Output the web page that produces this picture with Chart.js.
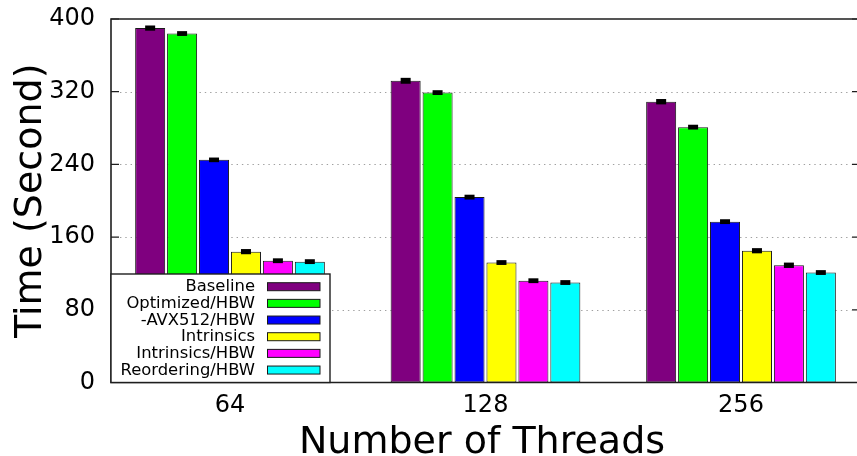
<!DOCTYPE html>
<html>
<head>
<meta charset="utf-8">
<script src="https://cdn.jsdelivr.net/npm/chart.js@4/dist/chart.umd.min.js"></script>
<style>
  html, body { margin: 0; padding: 0; background: #fff; overflow: hidden; }
  canvas { display: block; }
</style>
</head>
<body>
<canvas id="c" width="857" height="456"></canvas>
<script>
// Run time per implementation, grouped by thread count
const categories = ['64', '128', '256'];
const seriesNames = ['Baseline', 'Optimized/HBW', '-AVX512/HBW', 'Intrinsics', 'Intrinsics/HBW', 'Reordering/HBW'];
const seriesColors = ['#7f007f', '#00ff00', '#0000ff', '#ffff00', '#ff00ff', '#00ffff'];

const baseline       = [390, 332, 309];
const optimizedHBW   = [384, 319, 281];
const avx512HBW      = [245, 204, 177];
const intrinsics     = [144, 132, 145];
const intrinsicsHBW  = [134, 112, 129];
const reorderingHBW  = [133, 110, 121];

// half-width of the error bar on each value
const baselineErr      = [1.2, 1.6, 1.3];
const optimizedHBWErr  = [1.0, 1.0, 1.0];
const avx512HBWErr     = [0.9, 1.0, 1.0];
const intrinsicsErr    = [1.2, 1.0, 1.2];
const intrinsicsHBWErr = [1.0, 1.0, 1.3];
const reorderingHBWErr = [1.0, 1.0, 1.0];

const yTicks = [0, 80, 160, 240, 320, 400];

const seriesValues = [baseline, optimizedHBW, avx512HBW, intrinsics, intrinsicsHBW, reorderingHBW];
const seriesErrors = [baselineErr, optimizedHBWErr, avx512HBWErr, intrinsicsErr, intrinsicsHBWErr, reorderingHBWErr];

const FONT = "'DejaVu Sans', 'Liberation Sans', sans-serif";

// group centres sit at these canvas x positions, one group apart
const FIRST_GROUP_X = 230;
const GROUP_SPACING = 255.5;
// the right-hand border runs just past the canvas edge
const RIGHT_BORDER_X = 860;

const datasets = seriesNames.map((name, s) => ({
  label: name,
  data: seriesValues[s].map((v, i) => ({ x: i, y: v })),
  errors: seriesErrors[s],
  backgroundColor: seriesColors[s],
  borderColor: '#1a1a1a',
  borderWidth: 1,
  borderSkipped: false,
  categoryPercentage: 0.75,
  barPercentage: 0.94
}));

const decorations = {
  id: 'decorations',
  beforeDatasetsDraw(chart) {
    const { ctx, chartArea: a, scales: { y } } = chart;
    ctx.save();
    ctx.strokeStyle = '#a0a0a0';
    ctx.lineWidth = 1;
    ctx.setLineDash([1.4, 3.9]);
    yTicks.slice(1, -1).forEach(v => {
      const py = Math.round(y.getPixelForValue(v)) + 0.5;
      ctx.beginPath();
      ctx.moveTo(a.left + 9, py);
      ctx.lineTo(RIGHT_BORDER_X - 9, py);
      ctx.stroke();
    });
    ctx.restore();
  },
  afterDatasetsDraw(chart) {
    const { ctx, chartArea: a, scales: { y } } = chart;
    ctx.save();
    // error bars
    ctx.fillStyle = '#000';
    chart.data.datasets.forEach((ds, s) => {
      const meta = chart.getDatasetMeta(s);
      meta.data.forEach((bar, i) => {
        const v = ds.data[i].y, e = ds.errors[i];
        const top = y.getPixelForValue(v + e) - 1.5;
        const bot = y.getPixelForValue(v - e) + 1.5;
        ctx.fillRect(bar.x - 5, top, 10, bot - top);
      });
    });
    ctx.restore();
  },
  afterDraw(chart) {
    const { ctx, chartArea: a, scales: { y } } = chart;
    ctx.save();
    // keep the strip beyond the last group clear up to the canvas edge
    ctx.fillStyle = '#fff';
    ctx.fillRect(a.right - 6, a.top + 2, chart.width - (a.right - 6), a.bottom - a.top - 4);
    ctx.strokeStyle = '#a0a0a0';
    ctx.lineWidth = 1;
    ctx.setLineDash([1.4, 3.9]);
    yTicks.slice(1, -1).forEach(v => {
      const py = Math.round(y.getPixelForValue(v)) + 0.5;
      ctx.beginPath();
      ctx.moveTo(a.right - 6, py);
      ctx.lineTo(RIGHT_BORDER_X - 9, py);
      ctx.stroke();
    });
    ctx.setLineDash([]);
    // frame
    ctx.strokeStyle = '#1e1e1e';
    ctx.lineWidth = 1.6;
    ctx.beginPath();
    ctx.moveTo(RIGHT_BORDER_X, a.top);
    ctx.lineTo(a.left, a.top);
    ctx.lineTo(a.left, a.bottom);
    ctx.lineTo(RIGHT_BORDER_X, a.bottom);
    ctx.stroke();
    // inward tick marks
    ctx.lineWidth = 1.2;
    yTicks.forEach(v => {
      const py = y.getPixelForValue(v);
      ctx.beginPath();
      ctx.moveTo(a.left, py); ctx.lineTo(a.left + 8, py);
      ctx.moveTo(RIGHT_BORDER_X, py); ctx.lineTo(RIGHT_BORDER_X - 8, py);
      ctx.stroke();
    });
    // key box
    const kx0 = a.left, kx1 = 330, ky0 = 274, ky1 = a.bottom;
    ctx.fillStyle = '#fff';
    ctx.fillRect(kx0, ky0, kx1 - kx0, ky1 - ky0);
    ctx.strokeStyle = '#1e1e1e';
    ctx.lineWidth = 1.4;
    ctx.strokeRect(kx0, ky0, kx1 - kx0, ky1 - ky0);
    ctx.font = '16.4px ' + FONT;
    ctx.textAlign = 'right';
    ctx.textBaseline = 'middle';
    chart.data.datasets.forEach((ds, s) => {
      const cy = 286.7 + s * 16.67;
      ctx.fillStyle = '#000';
      ctx.fillText(ds.label, 255, cy + 0.5);
      ctx.fillStyle = ds.backgroundColor;
      ctx.fillRect(267, cy - 4, 53, 8);
      ctx.strokeStyle = '#1a1a1a';
      ctx.lineWidth = 1;
      ctx.strokeRect(267.5, cy - 4, 52.5, 8);
    });
    // axis titles
    ctx.fillStyle = '#000';
    ctx.font = '38px ' + FONT;
    ctx.textAlign = 'center';
    ctx.textBaseline = 'alphabetic';
    ctx.fillText('Number of Threads', 482, 453);
    ctx.translate(41, (a.top + a.bottom) / 2);
    ctx.rotate(-Math.PI / 2);
    ctx.fillText('Time (Second)', 0, 0);
    ctx.restore();
  }
};

const chart = new Chart(document.getElementById('c'), {
  type: 'bar',
  data: { datasets },
  options: {
    responsive: false,
    animation: false,
    devicePixelRatio: 1,
    layout: { padding: { top: 19, right: 0, left: 0, bottom: 0 } },
    plugins: { legend: { display: false }, tooltip: { enabled: false } },
    scales: {
      x: {
        type: 'linear',
        offset: false,
        min: -0.466,
        max: 2.466,
        afterBuildTicks: s => { s.ticks = categories.map((_, i) => ({ value: i })); },
        afterFit: s => { s.height = 73.5; s.paddingLeft = 0; s.paddingRight = 0; },
        ticks: {
          callback: v => categories[v] ?? '',
          font: { family: FONT, size: 24 },
          color: '#000',
          padding: 9,
          maxRotation: 0,
          autoSkip: false
        },
        grid: { display: false, drawTicks: false, offset: false },
        border: { display: false }
      },
      y: {
        min: 0,
        max: 400,
        afterBuildTicks: s => { s.ticks = yTicks.map(v => ({ value: v })); },
        afterFit: s => { s.width = 111; s.paddingTop = 0; s.paddingBottom = 0; },
        ticks: {
          font: { family: FONT, size: 24 },
          color: '#000',
          padding: 16
        },
        grid: { display: false, drawTicks: false },
        border: { display: false }
      }
    }
  },
  plugins: [decorations]
});

// fit the x range to the plot width so groups land one spacing apart
const area = chart.chartArea;
const span = (area.right - area.left) / GROUP_SPACING;
const xMin = -(FIRST_GROUP_X - area.left) / GROUP_SPACING;
chart.options.scales.x.min = xMin;
chart.options.scales.x.max = xMin + span;
chart.update();
</script>
</body>
</html>
